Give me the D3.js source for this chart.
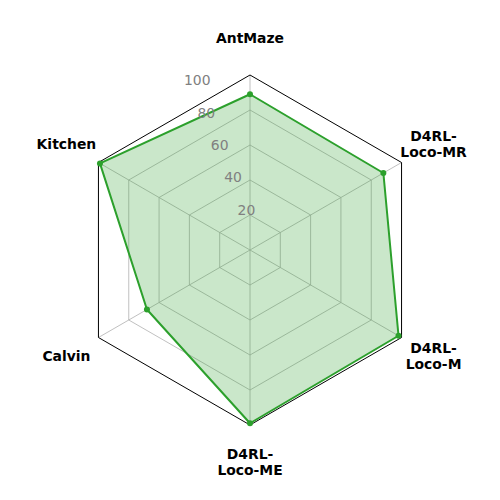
<!DOCTYPE html>
<html>
<head>
<meta charset="utf-8">
<script src="https://cdn.jsdelivr.net/npm/d3@7"></script>
<style>
  body { margin: 0; background: #fff; }
  svg { display: block; font-family: "DejaVu Sans", sans-serif; }
</style>
</head>
<body>
<div id="chart"></div>
<script>
// axes, clockwise from the top
const categories = ["AntMaze", "D4RL-\nLoco-MR", "D4RL-\nLoco-M", "D4RL-\nLoco-ME", "Calvin", "Kitchen"];
const scores = [89, 88, 98, 99, 68, 99];
const ticks = [20, 40, 60, 80, 100];

const width = 500, height = 500;
const cx = 250, cy = 250;
const R = 175;

const svg = d3.select("#chart").append("svg")
    .attr("width", width)
    .attr("height", height);

const g = svg.append("g").attr("transform", `translate(${cx},${cy})`);

const r = d3.scaleLinear().domain([0, 100]).range([0, R]);
const angle = d3.scaleLinear().domain([0, categories.length]).range([0, 2 * Math.PI]);

// point helper: angle measured clockwise from 12 o'clock
const pt = (i, v) => [Math.sin(angle(i)) * r(v), -Math.cos(angle(i)) * r(v)];

const ring = v => d3.lineRadial()
    .angle((d, i) => angle(i))
    .radius(() => r(v))
    .curve(d3.curveLinearClosed)(categories);

// grid rings
ticks.slice(0, -1).forEach(t => {
    g.append("path")
        .attr("d", ring(t))
        .attr("fill", "none")
        .attr("stroke", "#b0b0b0")
        .attr("stroke-width", 0.8);
});

// spokes
categories.forEach((c, i) => {
    const [x, y] = pt(i, 100);
    g.append("line")
        .attr("x1", 0).attr("y1", 0)
        .attr("x2", x).attr("y2", y)
        .attr("stroke", "#b0b0b0")
        .attr("stroke-width", 0.8);
});

// data area
const area = d3.lineRadial()
    .angle((d, i) => angle(i))
    .radius(d => r(d))
    .curve(d3.curveLinearClosed);

g.append("path")
    .attr("d", area(scores))
    .attr("fill", "#2ca02c")
    .attr("fill-opacity", 0.25)
    .attr("stroke", "none");

// outer frame
g.append("path")
    .attr("d", ring(100))
    .attr("fill", "none")
    .attr("stroke", "#000")
    .attr("stroke-width", 1);

g.append("path")
    .attr("d", area(scores))
    .attr("fill", "none")
    .attr("stroke", "#2ca02c")
    .attr("stroke-width", 2)
    .attr("stroke-linejoin", "round");

g.selectAll("circle.pt")
    .data(scores)
    .join("circle")
    .attr("class", "pt")
    .attr("cx", (d, i) => pt(i, d)[0])
    .attr("cy", (d, i) => pt(i, d)[1])
    .attr("r", 3)
    .attr("fill", "#2ca02c");

// radial tick labels at 22.5deg left of top
const la = -22.5 * Math.PI / 180;
ticks.forEach(t => {
    g.append("text")
        .attr("x", Math.sin(la) * r(t) + 1)
        .attr("y", -Math.cos(la) * r(t) - 3)
        .attr("text-anchor", "start")
        .attr("font-size", "13.9px")
        .attr("fill", "#808080")
        .text(t);
});

// category labels
const LR = 212;
categories.forEach((c, i) => {
    const a = angle(i);
    const x = Math.sin(a) * LR, y = -Math.cos(a) * LR;
    const lines = c.split("\n");
    const lh = 16;
    const t = g.append("text")
        .attr("text-anchor", "middle")
        .attr("font-size", "13.9px")
        .attr("font-weight", "bold")
        .attr("fill", "#000");
    lines.forEach((s, k) => {
        t.append("tspan")
            .attr("x", x)
            .attr("y", y + (k - (lines.length - 1) / 2) * lh)
            .attr("dy", "0.35em")
            .text(s);
    });
});
</script>
</body>
</html>
